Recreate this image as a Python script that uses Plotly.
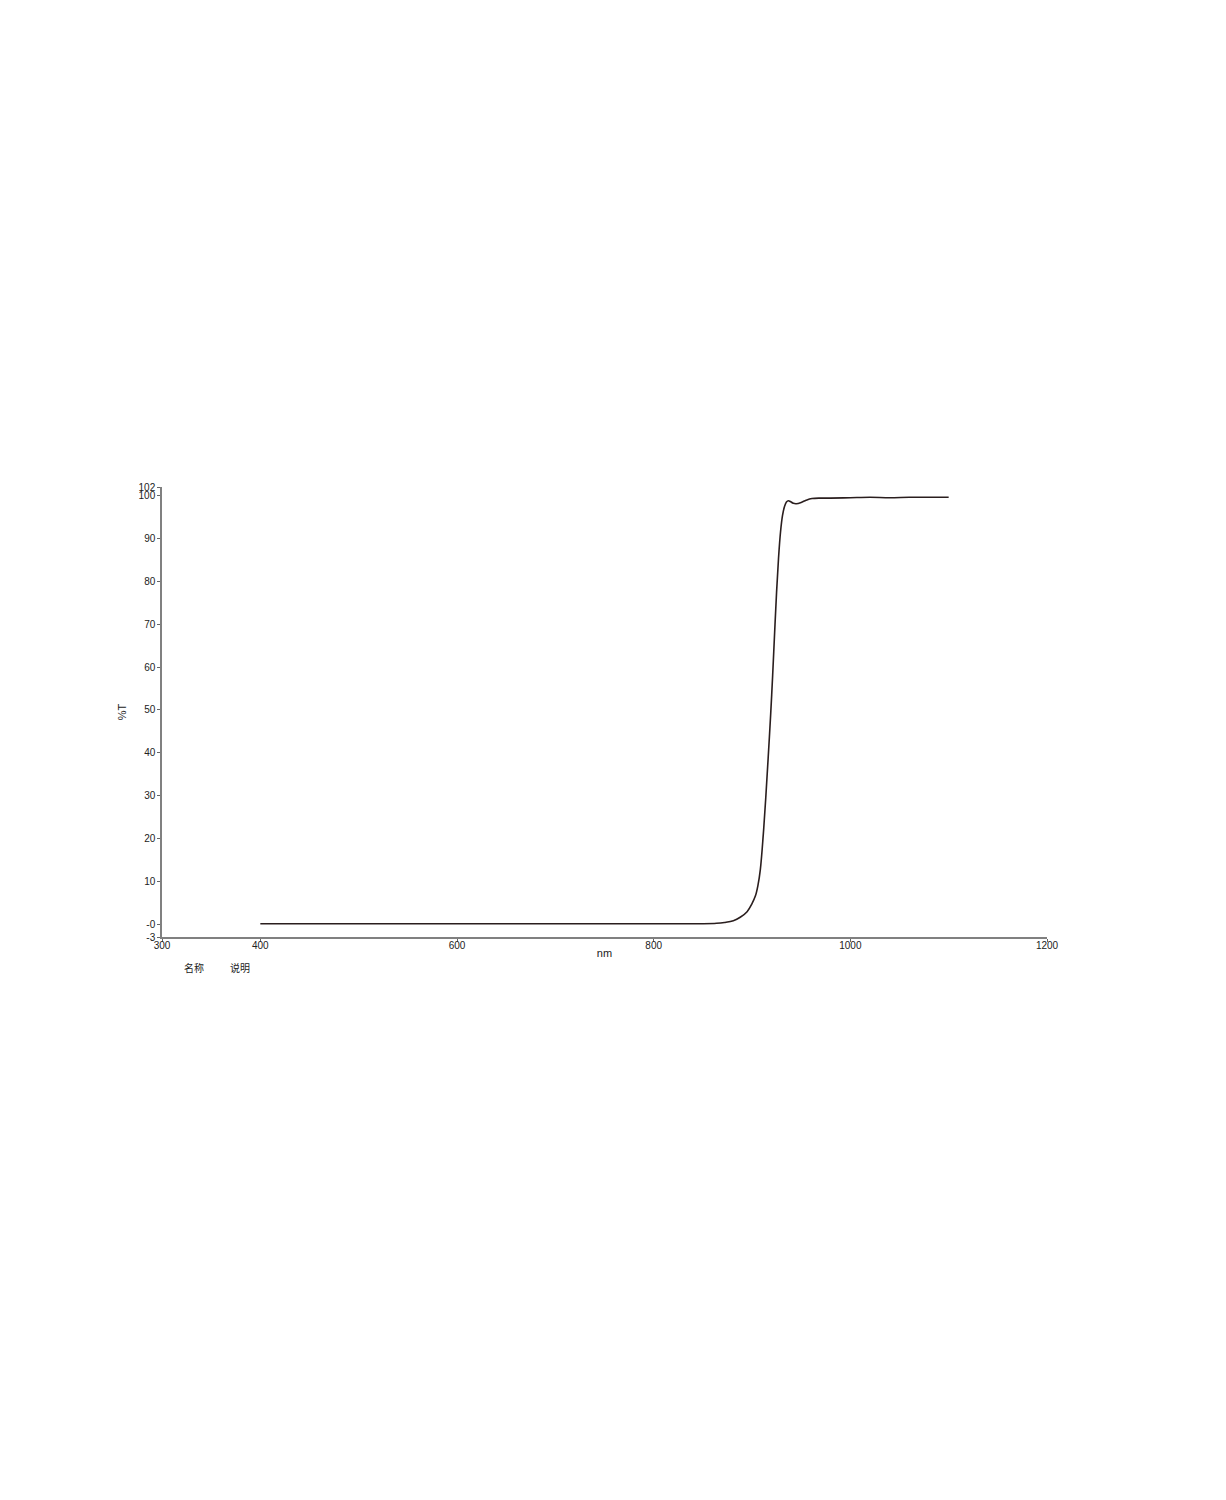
import plotly.graph_objects as go

# Data
wavelength_nm = [400, 500, 600, 700, 800, 850, 864, 872, 881, 888, 895, 900, 903.5, 906, 908.5, 911.5,
                 914, 916.5, 919, 921, 923, 925, 927, 929, 931, 933, 935, 937, 939, 942, 945,
                 950, 955, 961, 970, 980, 1000, 1020, 1040, 1060, 1080, 1100]
transmittance = [0.1, 0.1, 0.1, 0.1, 0.1, 0.1, 0.2, 0.4, 0.8, 1.6, 2.9, 4.8, 6.6, 9.0, 12.8, 21.0,
                 29.5, 39.0, 49.0, 58.0, 68.0, 77.5, 85.5, 91.5, 95.3, 97.4, 98.5, 98.8, 98.6, 98.2, 98.1,
                 98.4, 98.9, 99.3, 99.4, 99.4, 99.5, 99.6, 99.5, 99.6, 99.6, 99.6]

x_tickvals = [300, 400, 600, 800, 1000, 1200]
y_tickvals = [-3, 0, 10, 20, 30, 40, 50, 60, 70, 80, 90, 100, 102]
y_ticktext = ["-3", "-0", "10", "20", "30", "40", "50", "60", "70", "80", "90", "100", "102"]
legend_headers = ["名称", "说明"]

font_family = "Liberation Sans, Arial, sans-serif"

# page body has an 8px margin, so plot-area offsets are reduced by 8
L, T, PW, PH = 154, 479, 885, 450

fig = go.Figure()
fig.add_trace(go.Scatter(x=wavelength_nm, y=transmittance, mode="lines",
                         line=dict(color="#2a1e1e", width=1.6), showlegend=False,
                         line_shape="spline"))

fig.update_layout(
    width=1226, height=1500,
    margin=dict(l=L, r=1226 - L - PW, t=T, b=1500 - T - PH, autoexpand=False),
    paper_bgcolor="white", plot_bgcolor="white",
    font=dict(family=font_family, size=10, color="#222"),
    showlegend=False,
)
fig.update_xaxes(range=[300, 1200], tickvals=x_tickvals, ticks="outside", ticklen=3,
                 tickcolor="#666", showline=True, linecolor="#808080", linewidth=1.5,
                 showgrid=False, zeroline=False, tickfont=dict(size=10, color="#222"),
                 ticklabelstandoff=-5,
                 title=dict(text="nm", font=dict(size=11, color="#222"), standoff=0))
fig.update_yaxes(range=[-3, 102], tickvals=y_tickvals, ticktext=y_ticktext, ticks="outside",
                 ticklen=3, tickcolor="#666", showline=True, linecolor="#808080", linewidth=1.5,
                 showgrid=False, zeroline=False, tickfont=dict(size=10, color="#222"),
                 title=dict(text="%T", font=dict(size=11, color="#222"), standoff=10))

# legend header texts, positioned in reference pixel coordinates (centre)
for txt, (px, py) in zip(legend_headers, [(194, 967), (240, 967)]):
    fig.add_annotation(text=txt, x=(px - 8 - L) / PW, y=1 - (py - 8 - T) / PH,
                       xref="paper", yref="paper", showarrow=False,
                       xanchor="center", yanchor="middle",
                       font=dict(family="Noto Sans CJK SC", size=10, color="#222"))

fig.write_html("out.html")
